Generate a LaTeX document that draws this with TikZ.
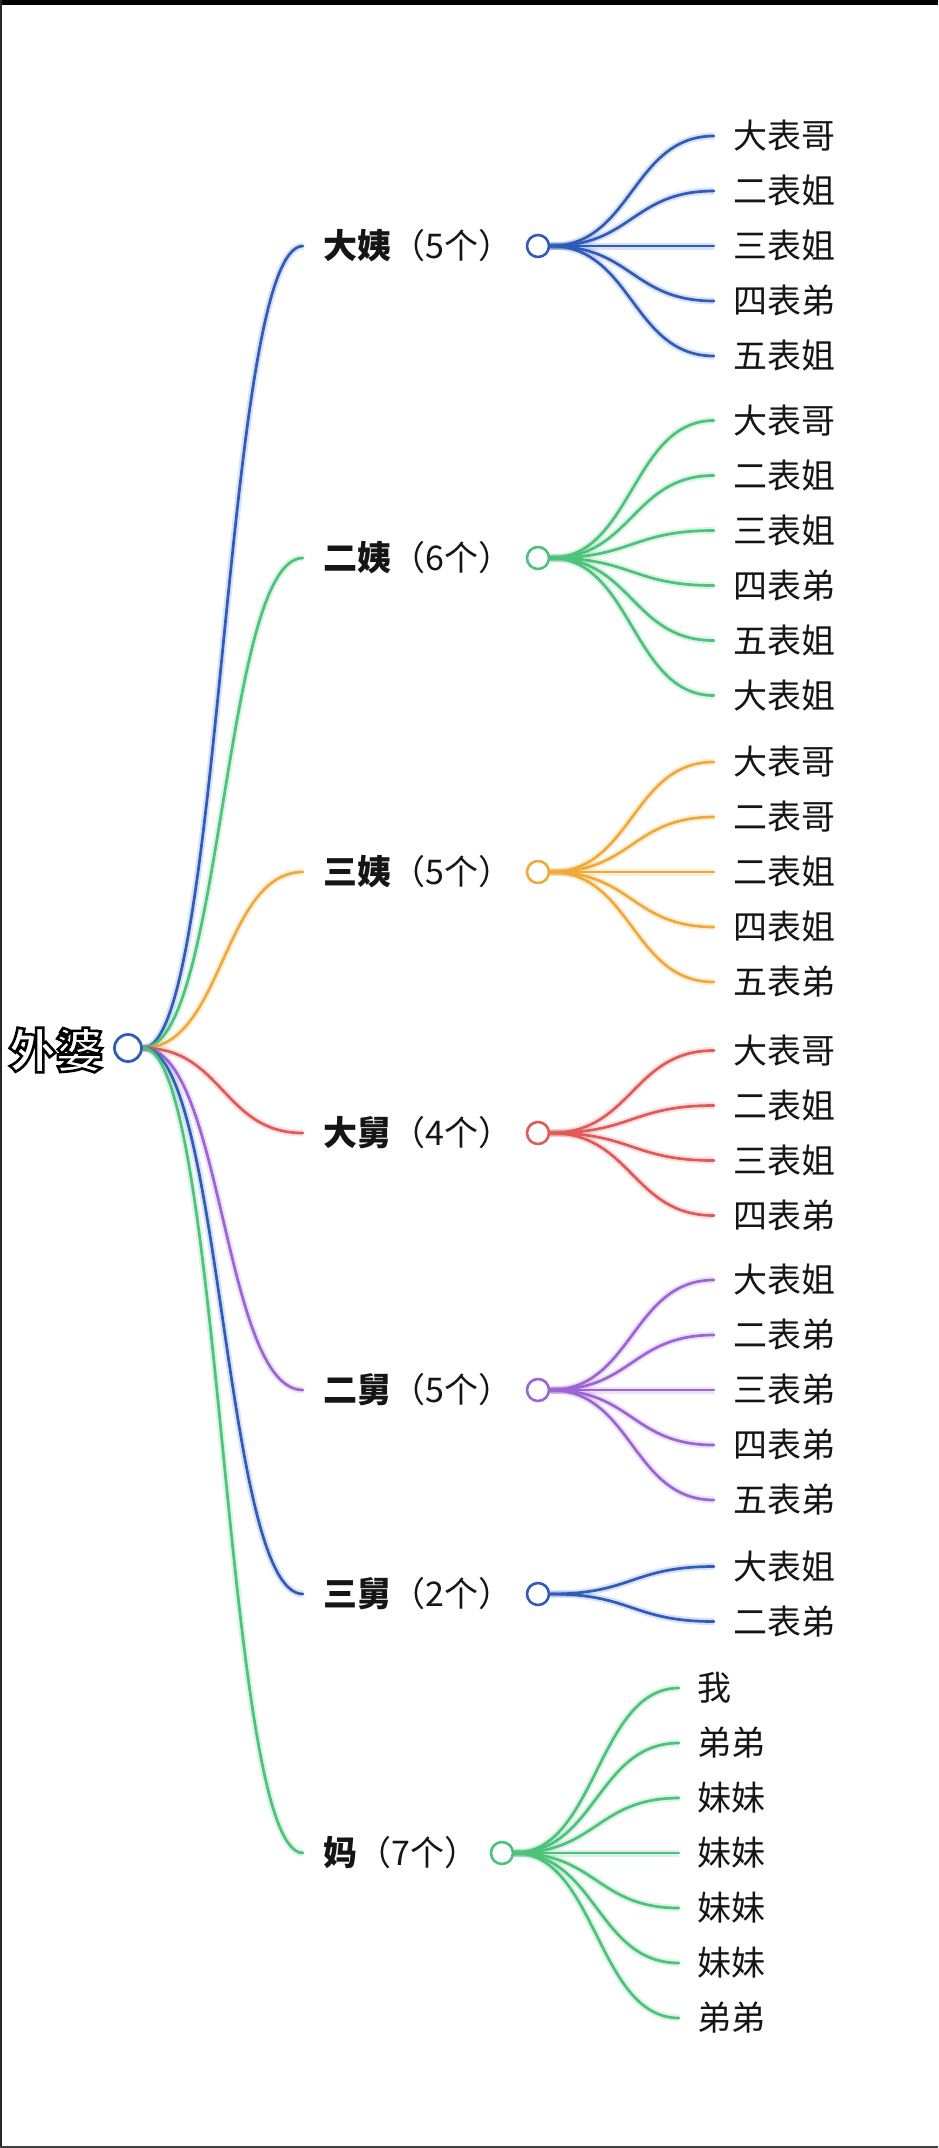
\documentclass[tikz,border=0pt]{standalone}
\usepackage{fontspec}
\setmainfont{Noto Sans CJK SC}
\pgfdeclarelayer{bgfill}
\pgfdeclarelayer{links}
\pgfsetlayers{bgfill,links,main}
\definecolor{cblue}{HTML}{2E5CB8}
\definecolor{cgreen}{HTML}{4CC27A}
\definecolor{corange}{HTML}{F0AA3A}
\definecolor{cred}{HTML}{E05A5A}
\definecolor{cpurple}{HTML}{9C64D4}
\definecolor{txt}{HTML}{151515}
\begin{document}
\begin{tikzpicture}[x=1pt,y=-1pt,
  dot/.style={circle, draw=#1, fill=white, line width=2.6pt, minimum size=22pt, inner sep=0pt},
  rootdot/.style={circle, draw=cblue, fill=white, line width=2.8pt, minimum size=27pt, inner sep=0pt},
  mid/.style={anchor=west, inner xsep=20pt, inner ysep=0pt, font=\fontsize{34}{40}\selectfont, text=txt},
  leaf/.style={anchor=west, inner xsep=19pt, inner ysep=0pt, font=\fontsize{34}{40}\selectfont, text=txt},
  link/.style={draw=#1, line width=2.7pt, line cap=round, preaction={draw=#1, draw opacity=0.18, line width=7pt}},
]
\useasboundingbox (0,0) rectangle (938,2148);
\begin{pgfonlayer}{bgfill}
\fill[white] (0,0) rectangle (938,2148);
\fill[black] (0,0) rectangle (938,5);
\fill[black!85] (0,0) rectangle (2,2148);
\fill[black!75] (0,2146) rectangle (938,2148);
\end{pgfonlayer}

% root
\node[rootdot] (r0) at (128,1048) {};
\node[inner sep=0pt, text=white, font=\fontsize{47}{50}\selectfont\bfseries] (root) at (56,1050)
  {\special{pdf:literal direct 0 0 0 RG 2 Tr 2.6 w}外婆\special{pdf:literal direct 0 Tr}};

% level 1
\node[mid] (n1) at (303,246) {\textbf{大姨}（5个）};
\node[mid] (n2) at (303,558) {\textbf{二姨}（6个）};
\node[mid] (n3) at (303,872) {\textbf{三姨}（5个）};
\node[mid] (n4) at (303,1133) {\textbf{大舅}（4个）};
\node[mid] (n5) at (303,1390) {\textbf{二舅}（5个）};
\node[mid] (n6) at (303,1594) {\textbf{三舅}（2个）};
\node[mid] (n7) at (303,1853) {\textbf{妈}（7个）};

\node[dot=cblue] (c1) at (538,246) {};
\node[dot=cgreen] (c2) at (538,558) {};
\node[dot=corange] (c3) at (538,872) {};
\node[dot=cred] (c4) at (538,1133) {};
\node[dot=cpurple] (c5) at (538,1390) {};
\node[dot=cblue] (c6) at (538,1594) {};
\node[dot=cgreen] (c7) at (502,1853) {};

\begin{pgfonlayer}{links}
\draw[link=cblue] (r0.east) .. controls +(80,0) and +(-80,0) .. (n1.west);
\draw[link=cgreen] (r0.east) .. controls +(80,0) and +(-80,0) .. (n2.west);
\draw[link=corange] (r0.east) .. controls +(80,0) and +(-80,0) .. (n3.west);
\draw[link=cred] (r0.east) .. controls +(80,0) and +(-80,0) .. (n4.west);
\draw[link=cpurple] (r0.east) .. controls +(80,0) and +(-80,0) .. (n5.west);
\draw[link=cblue] (r0.east) .. controls +(80,0) and +(-80,0) .. (n6.west);
\draw[link=cgreen] (r0.east) .. controls +(80,0) and +(-80,0) .. (n7.west);
\end{pgfonlayer}

% leaves
\foreach \t [count=\i] in {大表哥,二表姐,三表姐,四表弟,五表姐} {
  \node[leaf] (a\i) at (714,{246+(\i-3)*55}) {\t};
  \begin{pgfonlayer}{links}
  \draw[link=cblue] (c1.east) .. controls +(82,0) and +(-82,0) .. (a\i.west);
  \end{pgfonlayer}
}
\foreach \t [count=\i] in {大表哥,二表姐,三表姐,四表弟,五表姐,大表姐} {
  \node[leaf] (b\i) at (714,{558+(\i-3.5)*55}) {\t};
  \begin{pgfonlayer}{links}
  \draw[link=cgreen] (c2.east) .. controls +(82,0) and +(-82,0) .. (b\i.west);
  \end{pgfonlayer}
}
\foreach \t [count=\i] in {大表哥,二表哥,二表姐,四表姐,五表弟} {
  \node[leaf] (d\i) at (714,{872+(\i-3)*55}) {\t};
  \begin{pgfonlayer}{links}
  \draw[link=corange] (c3.east) .. controls +(82,0) and +(-82,0) .. (d\i.west);
  \end{pgfonlayer}
}
\foreach \t [count=\i] in {大表哥,二表姐,三表姐,四表弟} {
  \node[leaf] (e\i) at (714,{1133+(\i-2.5)*55}) {\t};
  \begin{pgfonlayer}{links}
  \draw[link=cred] (c4.east) .. controls +(82,0) and +(-82,0) .. (e\i.west);
  \end{pgfonlayer}
}
\foreach \t [count=\i] in {大表姐,二表弟,三表弟,四表弟,五表弟} {
  \node[leaf] (f\i) at (714,{1390+(\i-3)*55}) {\t};
  \begin{pgfonlayer}{links}
  \draw[link=cpurple] (c5.east) .. controls +(82,0) and +(-82,0) .. (f\i.west);
  \end{pgfonlayer}
}
\foreach \t [count=\i] in {大表姐,二表弟} {
  \node[leaf] (g\i) at (714,{1594+(\i-1.5)*55}) {\t};
  \begin{pgfonlayer}{links}
  \draw[link=cblue] (c6.east) .. controls +(82,0) and +(-82,0) .. (g\i.west);
  \end{pgfonlayer}
}
\foreach \t [count=\i] in {我,弟弟,妹妹,妹妹,妹妹,妹妹,弟弟} {
  \node[leaf, inner xsep=18pt] (h\i) at (679,{1853+(\i-4)*55}) {\t};
  \begin{pgfonlayer}{links}
  \draw[link=cgreen] (c7.east) .. controls +(82,0) and +(-82,0) .. (h\i.west);
  \end{pgfonlayer}
}
\end{tikzpicture}
\end{document}
